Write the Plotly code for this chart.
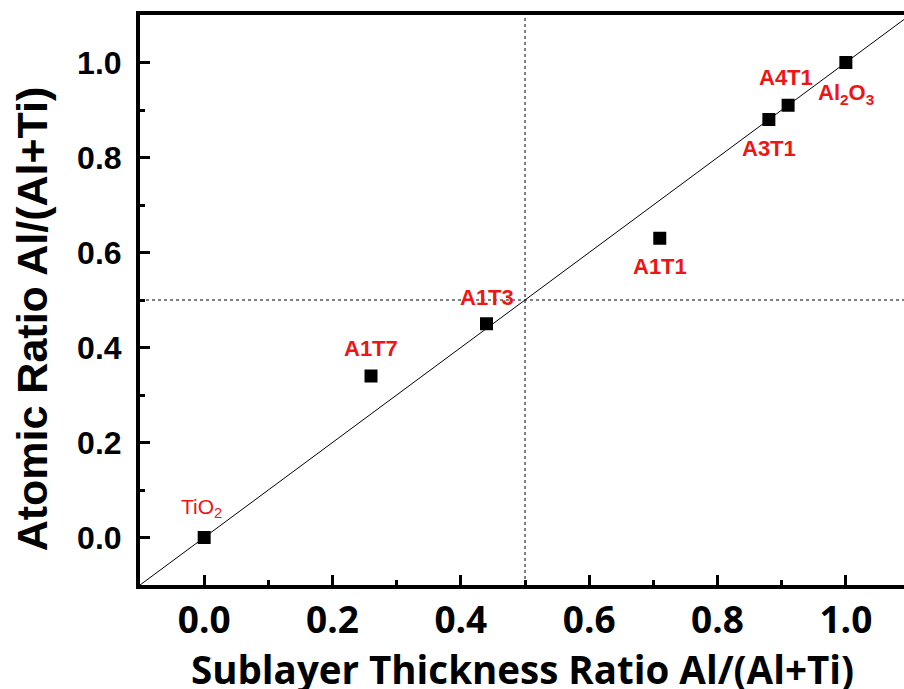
import plotly.graph_objects as go

# ---- data ----
thickness_ratio = [0.0, 0.26, 0.44, 0.71, 0.88, 0.91, 1.0]
atomic_ratio = [0.0, 0.34, 0.45, 0.63, 0.88, 0.91, 1.0]
sample_labels = ["TiO<sub>2</sub>", "A1T7", "A1T3", "A1T1", "A3T1", "A4T1", "Al<sub>2</sub>O<sub>3</sub>"]
ideal_x = [-0.1, 1.1]
ideal_y = [-0.1, 1.1]
ref_x = 0.5
ref_y = 0.5
x_title = "Sublayer Thickness Ratio Al/(Al+Ti)"
y_title = "Atomic Ratio Al/(Al+Ti)"

# ---- styles ----
label_shift = [30, 28, 26, -28, -29, 28, -31]
label_xshift = [-3, 0, 0, 0, 0, -2, 0]
label_weight = ["normal", "bold", "bold", "bold", "bold", "bold", "bold"]
label_size = [21, 22, 22, 22, 22, 22, 22]

fig = go.Figure()

fig.add_trace(go.Scatter(x=ideal_x, y=ideal_y, mode="lines",
                         line=dict(color="black", width=1), hoverinfo="skip",
                         showlegend=False))
fig.add_trace(go.Scatter(x=thickness_ratio, y=atomic_ratio, mode="markers",
                         marker=dict(symbol="square", size=13, color="black"),
                         showlegend=False))

fig.add_vline(x=ref_x, line=dict(color="black", width=1, dash="3px,3px"), layer="below")
fig.add_hline(y=ref_y, line=dict(color="black", width=1, dash="3px,3px"), layer="below")

for i, (xv, yv, lab) in enumerate(zip(thickness_ratio, atomic_ratio, sample_labels)):
    fig.add_annotation(x=xv, y=yv, text=lab, showarrow=False,
                       xanchor="center", yanchor="middle",
                       yshift=label_shift[i], xshift=label_xshift[i],
                       font=dict(family="Liberation Sans, Arial", size=label_size[i],
                                 color="#f01414", weight=label_weight[i]))

# axis titles
fig.add_annotation(xref="paper", yref="paper", x=0.5, y=-0.148, yanchor="middle",
                   text=x_title, showarrow=False,
                   font=dict(family="Open Sans", size=38.5, color="black", weight="bold"))
fig.add_annotation(xref="paper", yref="paper", x=-0.142, y=0.467, xanchor="center",
                   yanchor="middle", textangle=-90, text=y_title, showarrow=False,
                   font=dict(family="Liberation Sans, Arial", size=43, color="black",
                             weight="bold"))

fig.update_xaxes(range=[-0.1, 1.0906], showline=True, linewidth=4, linecolor="black",
                 mirror=True, ticks="inside", ticklen=10, tickwidth=3, tickcolor="black",
                 tick0=0, dtick=0.2, tickformat=".1f", showgrid=False, zeroline=False,
                 ticklabelstandoff=0,
                 minor=dict(ticks="inside", ticklen=5, tickwidth=3, tickcolor="black",
                            tick0=0, dtick=0.1, showgrid=False),
                 tickfont=dict(family="Open Sans", size=37, color="black", weight="bold"))
fig.update_yaxes(range=[-0.1, 1.1], showline=True, linewidth=4, linecolor="black",
                 mirror=False, ticks="inside", ticklen=10, tickwidth=3, tickcolor="black",
                 tick0=0, dtick=0.2, tickformat=".1f", showgrid=False, zeroline=False,
                 ticklabelstandoff=8,
                 minor=dict(ticks="inside", ticklen=5, tickwidth=3, tickcolor="black",
                            tick0=0, dtick=0.1, showgrid=False),
                 tickfont=dict(family="Liberation Sans, Arial", size=32, color="black",
                               weight="bold"))

fig.update_layout(width=904, height=689, plot_bgcolor="white", paper_bgcolor="white",
                  margin=dict(l=140, r=0, t=15, b=104), showlegend=False)

fig.write_html("out.html", config={"displayModeBar": False},
               post_script="document.body.style.margin='0';"
                           "document.body.style.overflow='hidden';"
                           "document.documentElement.style.overflow='hidden';")
